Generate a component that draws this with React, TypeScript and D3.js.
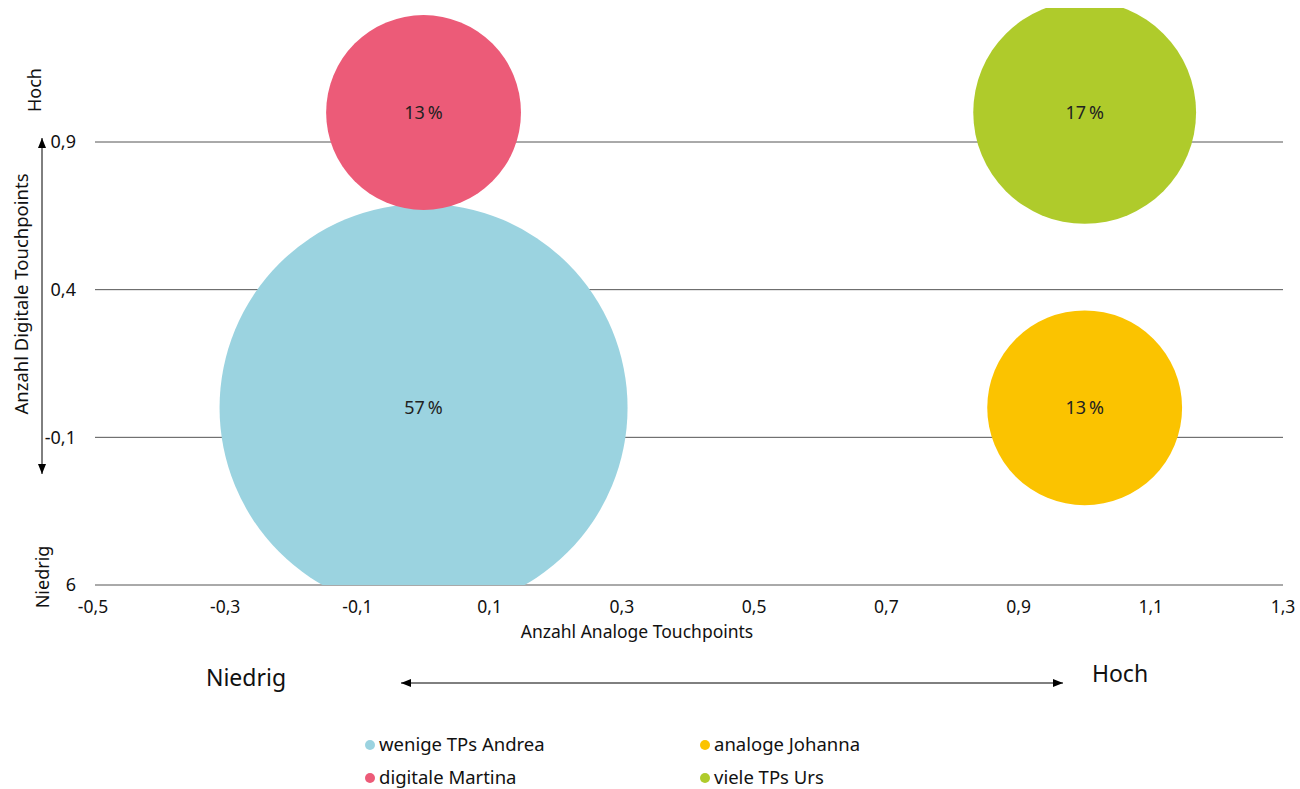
import React from 'react';
import * as d3 from 'd3';

// data
const personas = ['wenige TPs Andrea', 'digitale Martina', 'analoge Johanna', 'viele TPs Urs'];
const analog = [0, 0, 1, 1];
const digital = [0, 1, 0, 1];
const shares = [57, 13, 13, 17];
const colors = ['#9bd3e0', '#ec5b78', '#fbc300', '#afcb2b'];

const xTicks = [-0.5, -0.3, -0.1, 0.1, 0.3, 0.5, 0.7, 0.9, 1.1, 1.3];
const yTicks = [-0.6, -0.1, 0.4, 0.9];
const yTickLabels = ['6', '-0,1', '0,4', '0,9'];

const W = 1300;
const H = 789;
const font = '"Noto Sans", "Open Sans", sans-serif';

export default function App() {
  const x = d3.scaleLinear().domain([-0.5, 1.3]).range([93, 1283]);
  const y = d3.scaleLinear().domain([-0.6, 0.9]).range([585, 142]);
  const r = d3.scaleSqrt().domain([0, 57]).range([0, 204]);
  const plotTop = 8;
  // plain hyphen, comma decimals
  const fmt = (v: number) => (v < 0 ? '-' : '') + Math.abs(v).toFixed(1).replace('.', ',');

  return (
    <svg width={W} height={H} style={{ position: 'absolute', left: 0, top: 0 }}>
      <defs>
        <clipPath id="plot">
          <rect x={x(-0.5)} y={plotTop} width={x(1.3) - x(-0.5)} height={y(-0.6) - plotTop} />
        </clipPath>
        <marker id="arr" viewBox="0 0 10 10" refX="10" refY="5" markerWidth="10" markerHeight="10"
          markerUnits="userSpaceOnUse" orient="auto-start-reverse">
          <path d="M0,1 L10,5 L0,9 Z" fill="#000" />
        </marker>
      </defs>

      {/* gridlines */}
      {yTicks.map((t) => (
        <line key={t} x1={x(-0.5) + 2} x2={x(1.3)} y1={y(t)} y2={y(t)} stroke="#555" strokeWidth={1} />
      ))}

      {/* bubbles */}
      <g clipPath="url(#plot)">
        {personas.map((p, i) => (
          <circle key={p} cx={x(analog[i])} cy={y(digital[i])} r={r(shares[i])} fill={colors[i]} />
        ))}
      </g>
      {personas.map((p, i) => (
        <text key={p} x={x(analog[i])} y={y(digital[i])} dy="0.35em" textAnchor="middle"
          fontFamily={font} fontSize={18} fill="#222">
          {shares[i]}{'\u2009'}%
        </text>
      ))}

      {/* y tick labels */}
      {yTicks.map((t, i) => (
        <text key={t} x={76} y={y(t)} dy="0.35em" textAnchor="end" fontFamily={font} fontSize={18} fill="#111">
          {yTickLabels[i]}
        </text>
      ))}

      {/* x tick labels */}
      {xTicks.map((t) => (
        <text key={t} x={x(t)} y={607} dy="0.35em" textAnchor="middle" fontFamily={font} fontSize={17.5} fill="#111">
          {fmt(t)}
        </text>
      ))}

      {/* axis titles */}
      <text x={637} y={632} dy="0.35em" textAnchor="middle" fontFamily={font} fontSize={17.5} fill="#111">
        Anzahl Analoge Touchpoints
      </text>
      <text transform="translate(22,294) rotate(-90)" dy="0.35em" textAnchor="middle" fontFamily={font}
        fontSize={18.5} fill="#111">
        Anzahl Digitale Touchpoints
      </text>
      <text transform="translate(35,90) rotate(-90)" dy="0.35em" textAnchor="middle" fontFamily={font}
        fontSize={18} fill="#111">
        Hoch
      </text>
      <text transform="translate(43,577) rotate(-90)" dy="0.35em" textAnchor="middle" fontFamily={font}
        fontSize={18} fill="#111">
        Niedrig
      </text>

      {/* y arrow */}
      <line x1={42} x2={42} y1={138} y2={474} stroke="#000" strokeWidth={1}
        markerStart="url(#arr)" markerEnd="url(#arr)" />

      {/* x arrow */}
      <line x1={401} x2={1063} y1={683} y2={683} stroke="#000" strokeWidth={1}
        markerStart="url(#arr)" markerEnd="url(#arr)" />
      <text x={246} y={678} dy="0.35em" textAnchor="middle" fontFamily={font} fontSize={23} fill="#111">
        Niedrig
      </text>
      <text x={1120} y={674} dy="0.35em" textAnchor="middle" fontFamily={font} fontSize={23} fill="#111">
        Hoch
      </text>

      {/* legend */}
      {personas.map((p, i) => {
        const lx = i < 2 ? 370 : 705;
        const ly = i % 2 === 0 ? 745 : 778;
        return (
          <g key={p}>
            <circle cx={lx} cy={ly} r={5} fill={colors[i]} />
            <text x={lx + 9} y={ly} dy="0.35em" fontFamily={font} fontSize={18.5} fill="#111">
              {p}
            </text>
          </g>
        );
      })}
    </svg>
  );
}
